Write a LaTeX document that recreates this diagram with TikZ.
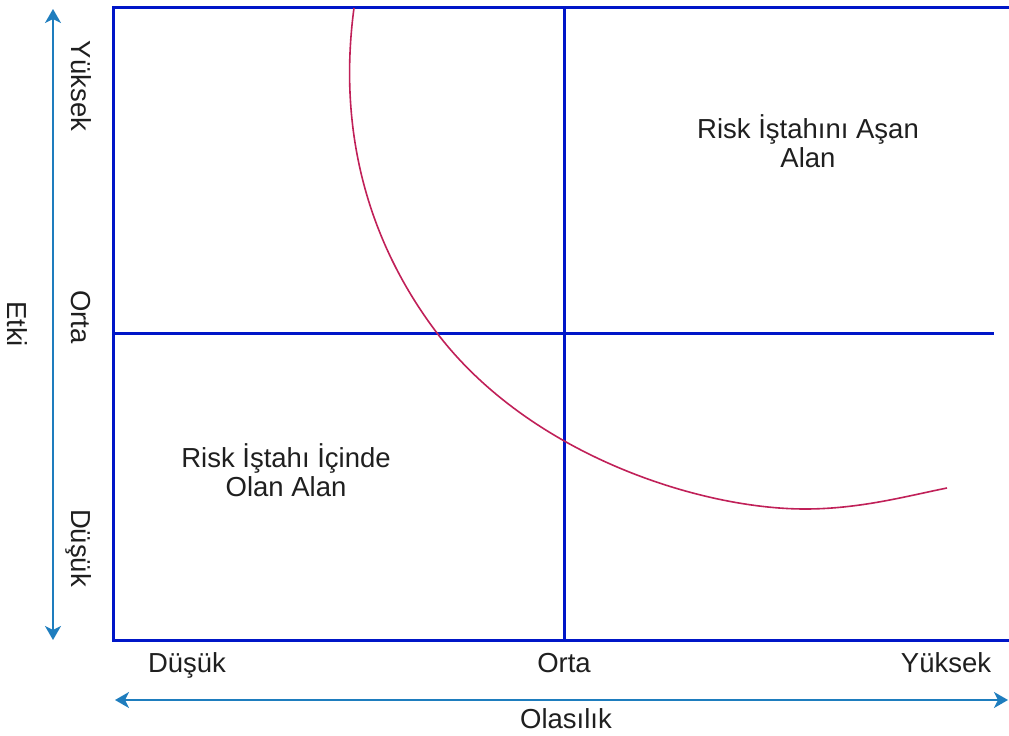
\documentclass[tikz,border=0pt]{standalone}
\usepackage{fontspec}
\setmainfont{Liberation Sans}
\usetikzlibrary{arrows.meta}
\definecolor{gridblue}{RGB}{0,22,200}
\definecolor{axisblue}{RGB}{30,125,190}
\definecolor{curvered}{RGB}{192,32,88}
\begin{document}
\begin{tikzpicture}[x=1pt,y=-1pt,
  lbl/.style={font=\fontsize{27.5}{29}\selectfont, inner sep=0pt, text=black!88},
  vlbl/.style={lbl, rotate=-90, anchor=base},
  hlbl/.style={lbl, anchor=base},
  zone/.style={lbl, align=center, anchor=center},
  gridline/.style={draw=gridblue, line width=3pt},
  axis/.style={draw=axisblue, line width=1.8pt,
    {Stealth[length=14pt,width=16pt,inset=4pt]}-{Stealth[length=14pt,width=16pt,inset=4pt]}}
]
\useasboundingbox (0,0) rectangle (1009,736);

% frame of the matrix (open on the right)
\coordinate (tr) at (1012,7);
\coordinate (tl) at (113,7);
\coordinate (bl) at (113,640);
\coordinate (br) at (1012,640);
\coordinate (ml) at (113,333);
\coordinate (mr) at (994,333);
\coordinate (mt) at (564,7);
\coordinate (mb) at (564,640);

\draw[gridline, line join=miter] (tr) -- (tl) -- (bl) -- (br);
\draw[gridline] (ml) -- (mr);
\draw[gridline] (mt) -- (mb);

% appetite boundary curve
\draw[curvered, line width=1.6pt]
  (354,8) .. controls (335,150) and (380,258) .. (437,333)
          .. controls (530,455) and (700,509) .. (805,509)
          .. controls (860,509) and (907,496) .. (947,488);

% axes
\coordinate (va) at (53,640);
\coordinate (vb) at (53,9);
\coordinate (ha) at (115,700);
\coordinate (hb) at (1008,700);
\draw[axis] (va) -- (vb);
\draw[axis] (ha) -- (hb);

% impact axis labels
\node[vlbl] (yuk) at (71,86) {Yüksek};
\node[vlbl] (ort) at (71,317) {Orta};
\node[vlbl] (dus) at (71,548) {Düşük};
\node[vlbl] (etki) at (8,324) {Etki};

% probability axis labels
\node[hlbl] (hdus) at (187,672) {Düşük};
\node[hlbl] (hort) at (564,672) {Orta};
\node[hlbl] (hyuk) at (946,672) {Yüksek};
\node[hlbl] (olas) at (566,728) {Olasılık};

% zone labels
\node[zone] (asan) at (808,141) {Risk İştahını Aşan\\Alan};
\node[zone] (icinde) at (286,470) {Risk İştahı İçinde\\Olan Alan};
\end{tikzpicture}
\end{document}
